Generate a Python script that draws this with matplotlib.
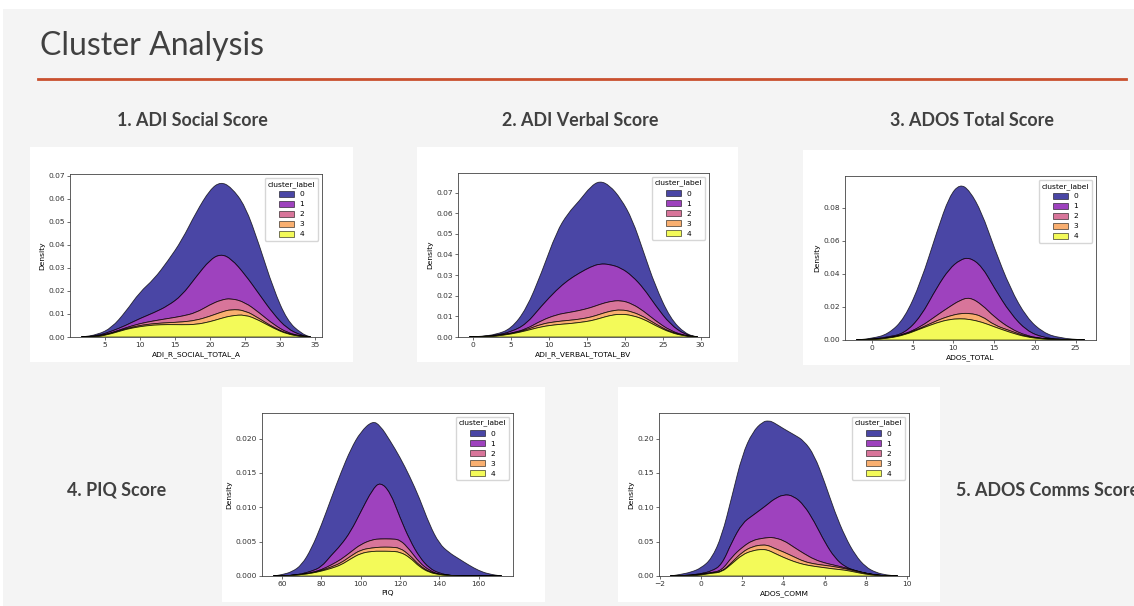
import matplotlib.pyplot as plt
import numpy as np
from matplotlib.patches import Patch, Rectangle, PathPatch
from matplotlib.lines import Line2D
from matplotlib.path import Path

# Stacked KDE curves.
# Each row is the upper edge of one cluster layer (cluster 0 on top of the stack).
clusters = [0, 1, 2, 3, 4]

social_x = [1.7, 4, 6, 8, 10, 12, 14, 16, 18, 20, 21.5, 23, 25, 27, 29, 31, 33, 34.3]
social_stack = [
    [0, 0.001, 0.004, 0.011, 0.0195, 0.025, 0.033, 0.042, 0.054, 0.064, 0.0673, 0.065, 0.057, 0.040, 0.021, 0.007, 0.0015, 0],
    [0, 0.0005, 0.0025, 0.005, 0.008, 0.0105, 0.0135, 0.018, 0.026, 0.0335, 0.036, 0.034, 0.027, 0.0185, 0.010, 0.0035, 0.0007, 0],
    [0, 0.0003, 0.0018, 0.0040, 0.0058, 0.0070, 0.0080, 0.0090, 0.0105, 0.0140, 0.0160, 0.0168, 0.015, 0.0105, 0.0055, 0.0018, 0.0004, 0],
    [0, 0.0002, 0.0016, 0.0036, 0.0050, 0.0058, 0.0062, 0.0065, 0.0072, 0.0090, 0.0107, 0.0120, 0.0115, 0.0080, 0.0042, 0.0014, 0.0003, 0],
    [0, 0.0001, 0.0014, 0.0033, 0.0045, 0.0052, 0.0054, 0.0053, 0.0054, 0.0066, 0.0080, 0.0092, 0.0097, 0.0072, 0.0038, 0.0012, 0.0002, 0],
]

verbal_x = [-0.5, 1, 3, 5, 7, 9, 11, 12.5, 14, 15.5, 16.7, 18, 19.5, 21, 22.5, 24, 26, 28, 29.6]
verbal_stack = [
    [0, 0.0003, 0.0012, 0.004, 0.0135, 0.031, 0.051, 0.060, 0.066, 0.073, 0.0757, 0.0735, 0.067, 0.057, 0.041, 0.025, 0.009, 0.0015, 0],
    [0, 0.0002, 0.0008, 0.0025, 0.0062, 0.0150, 0.0228, 0.0275, 0.0310, 0.0340, 0.0355, 0.0352, 0.0335, 0.0295, 0.0235, 0.0155, 0.0060, 0.0010, 0],
    [0, 0.0001, 0.0006, 0.0018, 0.0038, 0.0080, 0.0108, 0.0118, 0.0128, 0.0142, 0.0158, 0.0172, 0.0178, 0.0160, 0.0125, 0.0080, 0.0030, 0.0006, 0],
    [0, 0.0001, 0.0005, 0.0016, 0.0034, 0.0063, 0.0075, 0.0080, 0.0086, 0.0096, 0.0110, 0.0125, 0.0133, 0.0122, 0.0098, 0.0064, 0.0024, 0.0005, 0],
    [0, 0.0001, 0.0004, 0.0014, 0.0030, 0.0050, 0.0060, 0.0064, 0.0070, 0.0078, 0.0090, 0.0104, 0.0112, 0.0104, 0.0086, 0.0056, 0.0021, 0.0004, 0],
]

ados_x = [-1.9, 0, 2, 4, 6, 8, 9.5, 10.8, 12, 13.5, 15, 17, 19, 21, 23, 26.1]
ados_stack = [
    [0, 0.001, 0.0035, 0.013, 0.035, 0.066, 0.087, 0.0945, 0.0905, 0.077, 0.056, 0.031, 0.0135, 0.0045, 0.0012, 0],
    [0, 0.0005, 0.0018, 0.004, 0.014, 0.032, 0.043, 0.0485, 0.050, 0.0445, 0.0316, 0.016, 0.0055, 0.0015, 0.0004, 0],
    [0, 0.0003, 0.0012, 0.0035, 0.008, 0.015, 0.020, 0.024, 0.0259, 0.0214, 0.0140, 0.0068, 0.0025, 0.0008, 0.0002, 0],
    [0, 0.0003, 0.0011, 0.0032, 0.0072, 0.0118, 0.0145, 0.0160, 0.0162, 0.0145, 0.0090, 0.0055, 0.0020, 0.0007, 0.0002, 0],
    [0, 0.0003, 0.0010, 0.0030, 0.0068, 0.0105, 0.0124, 0.0129, 0.0125, 0.0108, 0.0080, 0.0045, 0.0017, 0.0006, 0.0002, 0],
]

piq_x = [55.6, 60, 65, 70, 75, 80, 85, 90, 95, 100, 106, 110, 115, 120, 125, 130, 135, 140, 145, 150, 155, 160, 165, 171.7]
piq_stack = [
    [0, 0.0002, 0.0006, 0.0016, 0.0040, 0.0074, 0.0113, 0.0151, 0.0185, 0.0210, 0.0226, 0.0219, 0.0197, 0.0173, 0.0145, 0.0113, 0.0075, 0.0047, 0.0034, 0.0025, 0.0016, 0.0008, 0.0003, 0],
    [0, 0, 0.0001, 0.0003, 0.0007, 0.0013, 0.0030, 0.0045, 0.0065, 0.0093, 0.0126, 0.0137, 0.0122, 0.0085, 0.0052, 0.0027, 0.0011, 0.0004, 0.0001, 0, 0, 0, 0, 0],
    [0, 0, 0.0001, 0.0002, 0.0005, 0.0009, 0.0016, 0.0024, 0.0035, 0.0046, 0.0053, 0.0054, 0.0054, 0.0053, 0.0038, 0.0019, 0.0008, 0.0002, 0.0001, 0, 0, 0, 0, 0],
    [0, 0, 0.0001, 0.0002, 0.0004, 0.0008, 0.0013, 0.0019, 0.0029, 0.0038, 0.0041, 0.0042, 0.0042, 0.0041, 0.0030, 0.0015, 0.0006, 0.0002, 0.0001, 0, 0, 0, 0, 0],
    [0, 0, 0.0001, 0.0002, 0.0004, 0.0007, 0.0011, 0.0016, 0.0025, 0.0033, 0.0036, 0.0036, 0.0036, 0.0035, 0.0027, 0.0013, 0.0005, 0.0002, 0.0001, 0, 0, 0, 0, 0],
]

comm_x = [-1.5, -1, -0.5, 0, 0.5, 1, 1.5, 2, 2.5, 3, 3.3, 3.5, 4, 4.5, 5, 5.5, 6, 6.5, 7, 7.5, 8, 8.5, 9, 9.55]
comm_stack = [
    [0, 0.0024, 0.0055, 0.0117, 0.025, 0.058, 0.117, 0.177, 0.210, 0.225, 0.226, 0.224, 0.2145, 0.206, 0.197, 0.176, 0.137, 0.093, 0.057, 0.030, 0.013, 0.005, 0.0015, 0],
    [0, 0.0005, 0.0015, 0.0034, 0.007, 0.016, 0.050, 0.077, 0.088, 0.099, 0.106, 0.111, 0.119, 0.1165, 0.103, 0.079, 0.0495, 0.026, 0.013, 0.0078, 0.004, 0.0015, 0.0003, 0],
    [0, 0.0004, 0.001, 0.0025, 0.005, 0.008, 0.028, 0.042, 0.052, 0.055, 0.056, 0.056, 0.052, 0.042, 0.0325, 0.024, 0.019, 0.0155, 0.012, 0.0075, 0.004, 0.0015, 0.0003, 0],
    [0, 0.0003, 0.0008, 0.002, 0.0045, 0.006, 0.020, 0.035, 0.043, 0.0455, 0.044, 0.041, 0.035, 0.028, 0.021, 0.0175, 0.0155, 0.0135, 0.0105, 0.007, 0.0038, 0.0014, 0.0003, 0],
    [0, 0.0003, 0.0007, 0.0015, 0.004, 0.0055, 0.018, 0.031, 0.037, 0.039, 0.037, 0.034, 0.027, 0.021, 0.0165, 0.014, 0.012, 0.010, 0.0085, 0.0055, 0.0025, 0.001, 0.0002, 0],
]

W, H = 1134, 606
fig = plt.figure(figsize=(W / 100, H / 100), dpi=100)
fig.patch.set_facecolor('white')


def px_rect(x0, y0, x1, y1):
    # pixel box (top-left origin) -> figure fraction rect
    return [x0 / W, 1 - y1 / H, (x1 - x0) / W, (y1 - y0) / H]


def smooth_edge(x, y, first_code):
    # quadratic B-spline path through the read points (drawn by matplotlib's Path)
    pts = np.column_stack([x, y])
    verts = [pts[0], (pts[0] + pts[1]) / 2]
    codes = [first_code, Path.LINETO]
    for i in range(1, len(pts) - 1):
        verts += [pts[i], (pts[i] + pts[i + 1]) / 2]
        codes += [Path.CURVE3, Path.CURVE3]
    verts.append(pts[-1])
    codes.append(Path.LINETO)
    return verts, codes


# slide background
fig.add_artist(Rectangle((3 / W, 0), 1, 1 - 9 / H, transform=fig.transFigure,
                         facecolor='#f4f4f4', edgecolor='none', zorder=-10))

title = fig.text(40 / W, 1 - 55 / H, 'Cluster Analysis',
                 family=['Liberation Sans Narrow', 'Lato', 'DejaVu Sans'],
                 fontsize=25, color='#404040', va='baseline')
fig.add_artist(Line2D([38 / W, 1126 / W], [1 - 78.5 / H] * 2, color='#c9502e', lw=2.0))

cmap = plt.get_cmap('plasma')
colors = [cmap(c / 4) for c in clusters]
s = 0.54  # the embedded seaborn images are scaled down from ~600x400 px


def kde_panel(box, axbox, x, stack, xlabel):
    fig.add_artist(Rectangle((box[0] / W, 1 - box[3] / H), (box[2] - box[0]) / W,
                             (box[3] - box[1]) / H, transform=fig.transFigure,
                             facecolor='white', edgecolor='none', zorder=-5))
    ax = fig.add_axes(px_rect(*axbox))
    x = np.asarray(x, dtype=float)
    stack = np.asarray(stack, dtype=float)
    for k in clusters:
        lower = stack[k + 1] if k < len(clusters) - 1 else np.zeros_like(x)
        v1, c1 = smooth_edge(x, stack[k], Path.MOVETO)
        v2, c2 = smooth_edge(x[::-1], lower[::-1], Path.LINETO)
        verts = v1 + v2 + [v1[0]]
        codes = c1 + c2 + [Path.CLOSEPOLY]
        ax.add_patch(PathPatch(Path(verts, codes), facecolor=colors[k], alpha=0.75,
                               edgecolor='black', linewidth=0.6))
    ax.set_xlim(x.min() - 0.05 * (x.max() - x.min()), x.max() + 0.05 * (x.max() - x.min()))
    ax.set_ylim(0, stack[0].max() * 1.05)
    ax.set_xlabel(xlabel, fontsize=10 * s, labelpad=4 * s)
    ax.set_ylabel('Density', fontsize=10 * s, labelpad=4 * s)
    ax.tick_params(labelsize=10 * s, length=3.5 * s, width=0.5, pad=3.5 * s, colors='#333333')
    for sp in ax.spines.values():
        sp.set_linewidth(0.6)
        sp.set_color('#444444')
    handles = [Patch(facecolor=colors[k], alpha=0.75, edgecolor='black', linewidth=0.5)
               for k in clusters]
    ax.legend(handles, [str(k) for k in clusters], title='cluster_label', loc='upper right',
              fontsize=10 * s, title_fontsize=10 * s, borderaxespad=0.5)
    return ax


kde_panel((30, 147, 353, 362), (70, 174, 322, 337), social_x, social_stack, 'ADI_R_SOCIAL_TOTAL_A')
kde_panel((417, 147, 738, 362), (458, 173, 709, 337), verbal_x, verbal_stack, 'ADI_R_VERBAL_TOTAL_BV')
kde_panel((803, 150, 1130, 365), (845, 176, 1096, 340), ados_x, ados_stack, 'ADOS_TOTAL')
kde_panel((222, 387, 545, 602), (262, 413, 513, 576), piq_x, piq_stack, 'PIQ')
kde_panel((618, 387, 940, 602), (659, 413, 909, 576), comm_x, comm_stack, 'ADOS_COMM')

sub_kw = dict(family=['Lato', 'DejaVu Sans'], weight='bold', fontsize=12.5,
              color='#404040', va='center')
subs = [
    fig.text(192 / W, 1 - 121 / H, '1. ADI Social Score', ha='center', **sub_kw),
    fig.text(580 / W, 1 - 121 / H, '2. ADI Verbal Score', ha='center', **sub_kw),
    fig.text(972 / W, 1 - 121 / H, '3. ADOS Total Score', ha='center', **sub_kw),
    fig.text(67 / W, 1 - 490 / H, '4. PIQ Score', ha='left', **sub_kw),
    fig.text(956 / W, 1 - 490 / H, '5. ADOS Comms Score', ha='left', **sub_kw),
]

# match text widths measured on the slide
r = fig.canvas.get_renderer()
w = title.get_window_extent(r).width
title.set_fontsize(title.get_fontsize() * 224 / w)
w = subs[0].get_window_extent(r).width
for t in subs:
    t.set_fontsize(t.get_fontsize() * 151 / w)

fig.savefig('out.png', dpi=100, facecolor=fig.get_facecolor())
